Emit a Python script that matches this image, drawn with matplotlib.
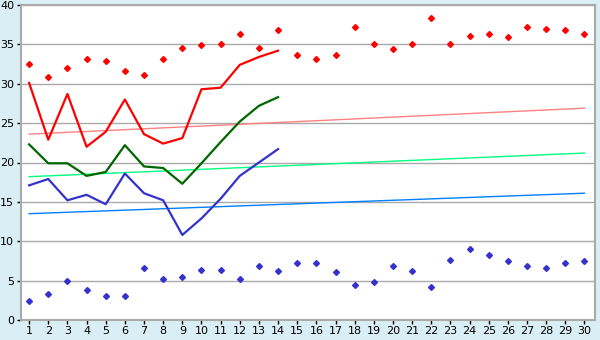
import numpy as np
import matplotlib
matplotlib.use('Agg')
import matplotlib.pyplot as plt

days = list(range(1, 31))
days_line = list(range(1, 15))

# upper scatter (red) and lower scatter (blue)
red_pts = [32.5, 30.9, 32.0, 33.1, 32.9, 31.6, 31.1, 33.2, 34.5, 34.9,
           35.1, 36.3, 34.5, 36.8, 33.6, 33.2, 33.7, 37.2, 35.0, 34.4,
           35.1, 38.4, 35.1, 36.1, 36.3, 36.0, 37.2, 36.9, 36.8, 36.3]
blue_pts = [2.4, 3.3, 5.0, 3.8, 3.1, 3.0, 6.6, 5.2, 5.5, 6.3,
            6.4, 5.2, 6.8, 6.2, 7.3, 7.3, 6.1, 4.5, 4.8, 6.9,
            6.2, 4.2, 7.6, 9.0, 8.3, 7.5, 6.8, 6.6, 7.2, 7.5]

# lines for first 14 days
red_line = [30.1, 22.9, 28.7, 22.0, 23.9, 28.0, 23.6, 22.4, 23.1, 29.3,
            29.5, 32.4, 33.4, 34.2]
green_line = [22.3, 19.9, 19.9, 18.3, 18.8, 22.2, 19.5, 19.3, 17.3, 19.9,
              22.6, 25.2, 27.2, 28.3]
blue_line = [17.1, 17.9, 15.2, 15.9, 14.7, 18.6, 16.1, 15.2, 10.8, 12.9,
             15.4, 18.3, 20.0, 21.7]

# trend lines (start day 1, end day 30)
trend_x = [1, 30]
trend_red = [23.6, 26.9]
trend_green = [18.2, 21.2]
trend_blue = [13.5, 16.1]

bg = '#DAEEF5'
fig = plt.figure(figsize=(6, 3.4), dpi=100, facecolor=bg)
ax = fig.add_axes([20.5/600, 20/340, 574.5/600, 315/340])
ax.set_facecolor('white')

ax.plot(trend_x, trend_red, color='#FF8080', lw=1)
ax.plot(trend_x, trend_green, color='#00FF80', lw=1)
ax.plot(trend_x, trend_blue, color='#0080FF', lw=1)

ax.plot(days_line, red_line, color='#FF0000', lw=1.6)
ax.plot(days_line, green_line, color='#006600', lw=1.6)
ax.plot(days_line, blue_line, color='#3333CC', lw=1.6)

ax.plot(days, red_pts, ls='none', marker='D', ms=3, color='#FF0000')
ax.plot(days, blue_pts, ls='none', marker='D', ms=3, color='#3333CC')

ax.set_xlim(0.55, 30.55)
ax.set_ylim(0, 40)
ax.set_xticks(days)
ax.set_yticks(range(0, 41, 5))
ax.yaxis.grid(True, color='#AAAAAA', lw=1)
ax.set_axisbelow(True)
for s in ax.spines.values():
    s.set_color('#AAAAAA')
    s.set_linewidth(1.5)
ax.tick_params(axis='both', direction='out', length=3, width=1,
               color='black', labelsize=8, pad=1.5)

fig.savefig('out.png', dpi=100, facecolor=bg)
